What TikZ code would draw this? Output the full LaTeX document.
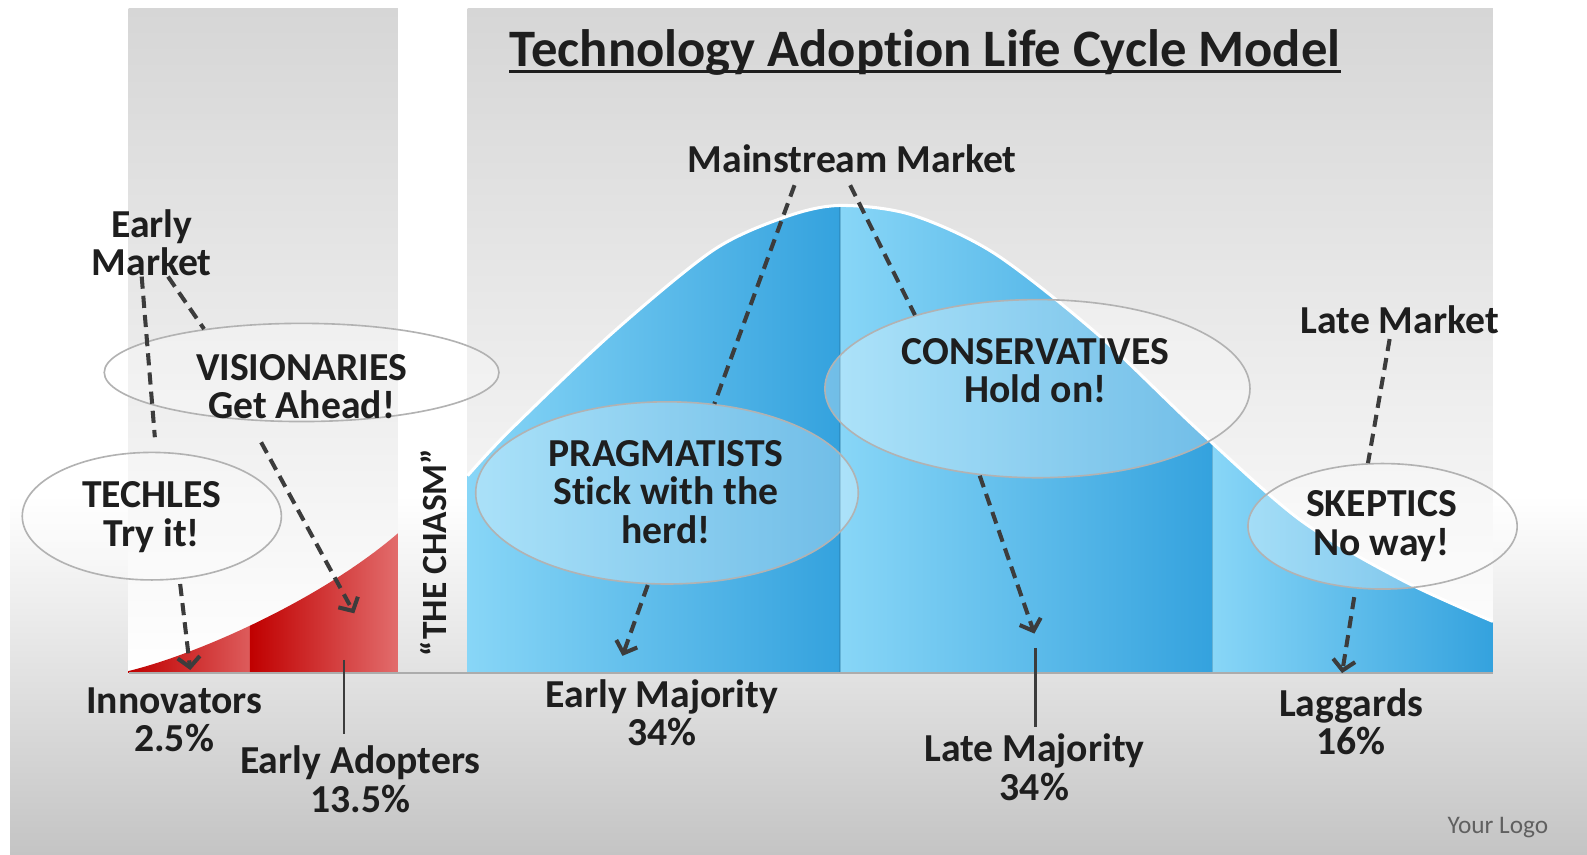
\documentclass[tikz,border=0pt]{standalone}
\usepackage{fontspec}
\setmainfont{Carlito}[Ligatures=CommonOff]
\usetikzlibrary{shapes.geometric,arrows.meta}
\definecolor{panelTop}{HTML}{D6D6D6}
\definecolor{redDark}{HTML}{C00000}
\definecolor{redLight}{HTML}{E26C6C}
\definecolor{blueDark}{HTML}{34A2DE}
\definecolor{blueLight}{HTML}{88D6F7}
\definecolor{ink}{HTML}{1E1E1E}
\definecolor{dashc}{HTML}{3C3C3C}
\definecolor{bgBot}{HTML}{C4C4C4}
\begin{document}
\begin{tikzpicture}[x=0.5pt,y=-0.5pt,
  lbl/.style={font=\fontsize{19.6}{19}\selectfont\bfseries, text=ink, align=center, inner sep=0pt},
  ellip/.style={ellipse, draw=gray!60, line width=0.8pt, fill=white, fill opacity=0.3, inner sep=0pt},
  dline/.style={dashc, line width=2pt, dash pattern=on 6pt off 3.5pt},
  darr/.style={dline, -{Straight Barb[length=5pt,width=11pt,line width=2pt]}},
  sline/.style={dashc, line width=1.3pt}]
\useasboundingbox (0,0) rectangle (1568,844);
% background
\fill[white] (0,0) rectangle (1568,844);
\shade[top color=white, bottom color=bgBot] (10,490) rectangle (1568,844);
% panels
\shade[top color=panelTop, bottom color=white] (127,8) rectangle (393,665);
\shade[top color=panelTop, bottom color=white] (462,8) rectangle (1475,665);
% red area
\begin{scope}
\clip (127,663) .. controls (200,645) and (320,590) .. (393,527) -- (393,665) -- (127,665) -- cycle;
\shade[left color=redDark, right color=redLight!85!redDark] (127,500) rectangle (247,665);
\shade[left color=redDark, right color=redLight] (247,500) rectangle (393,665);
\end{scope}
% blue bell
\begin{scope}
\clip (462,665) -- plot[smooth] coordinates {(462,470) (504,425) (605,329) (705,247) (777,214) (830,203) (900,212) (982,250) (1083,329) (1184,425) (1285,514) (1385,573) (1475,614)} -- (1475,665) -- cycle;
\shade[left color=blueLight, right color=blueDark] (462,190) rectangle (830,665);
\shade[left color=blueLight, right color=blueDark] (830,190) rectangle (1198,665);
\shade[left color=blueLight, right color=blueDark] (1198,190) rectangle (1475,665);
\draw[blueDark!70!black, opacity=0.35, line width=0.8pt] (830,190) -- (830,665);
\draw[blueDark!70!black, opacity=0.35, line width=0.8pt] (1198,190) -- (1198,665);
\end{scope}
\draw[white, line width=1.5pt] plot[smooth] coordinates {(462,470) (504,425) (605,329) (705,247) (777,214) (830,203) (900,212) (982,250) (1083,329) (1184,425) (1285,514) (1385,573) (1475,614)};
\draw[gray!65, line width=1pt] (127,665) -- (1475,665);
% ellipses
\node[ellip, minimum width=195pt, minimum height=48.5pt] (vis) at (298,368) {};
\node[ellip, minimum width=128pt, minimum height=63pt] (tech) at (150,510) {};
\node[ellip, minimum width=189pt, minimum height=90pt] (prag) at (659,487) {};
\node[ellip, minimum width=210pt, minimum height=88pt] (cons) at (1025,384) {};
\node[ellip, minimum width=133pt, minimum height=62pt] (skep) at (1366,520) {};
% texts
\node[lbl, font=\fontsize{26}{27}\selectfont\bfseries, anchor=base] (title) at (914,66) {Technology Adoption Life Cycle Model};
\draw[ink, line width=1.4pt] ([yshift=-2.2pt]title.base west) -- ([yshift=-2.2pt]title.base east);
\node[lbl] (ms) at (842,157) {Mainstream Market};
\node[lbl] (em) at (150,240) {Early\\Market};
\node[lbl] (lm) at (1383,316) {Late Market};
\node[lbl] (visT) at (298,382) {VISIONARIES\\Get Ahead!};
\node[lbl] (techT) at (150,511) {TECHLES\\Try it!};
\node[lbl] (pragT) at (658,486) {PRAGMATISTS\\Stick with the\\herd!};
\node[lbl] (consT) at (1023,366) {CONSERVATIVES\\Hold on!};
\node[lbl] (skepT) at (1365,520) {SKEPTICS\\No way!};
\node[lbl, font=\fontsize{17.5}{18}\selectfont\bfseries, rotate=90] (chasm) at (428,546) {“THE CHASM”};
\node[lbl] (inn) at (172,711) {Innovators\\2.5\%};
\node[lbl] (ea) at (356,770) {Early Adopters\\13.5\%};
\node[lbl] (emj) at (654,704) {Early Majority\\34\%};
\node[lbl] (lmj) at (1022,758) {Late Majority\\34\%};
\node[lbl] (lag) at (1335,713) {Laggards\\16\%};
\node[font=\fontsize{12.5}{13}\selectfont, text=gray!75!black, inner sep=0pt] (logo) at (1480,818) {Your Logo};
% coordinates for free ends
\coordinate (emEnd) at (153,432);
\coordinate (visS) at (258,437);
\coordinate (eaTip) at (350,606);
\coordinate (techS) at (178,577);
\coordinate (innTip) at (188,662);
\coordinate (msL) at (785,183);
\coordinate (msR) at (840,183);
\coordinate (pragS) at (640,578);
\coordinate (emjTip) at (615,648);
\coordinate (consS) at (968,470);
\coordinate (lmjTip) at (1022,626);
\coordinate (lmS) at (1373,335);
\coordinate (skepS) at (1338,590);
\coordinate (lagTip) at (1326,665);
\coordinate (eaTop) at (340,652);
\coordinate (eaBot) at (340,725);
\coordinate (lmjTop) at (1023,640);
\coordinate (lmjBot) at (1023,718);
% connectors
\draw[dline] ([xshift=-5pt]em.south) -- (emEnd);
\draw[dline] ([xshift=8pt]em.south) -- (vis.156);
\draw[darr] (visS) -- (eaTip);
\draw[darr] (techS) -- (innTip);
\draw[dline] (msL) -- (prag.62);
\draw[dline] (msR) -- (cons.149);
\draw[darr] (pragS) -- (emjTip);
\draw[darr] (consS) -- (lmjTip);
\draw[dline] (lmS) -- (skep.103);
\draw[darr] (skepS) -- (lagTip);
\draw[sline] (eaTop) -- (eaBot);
\draw[sline] (lmjTop) -- (lmjBot);
\end{tikzpicture}
\end{document}
